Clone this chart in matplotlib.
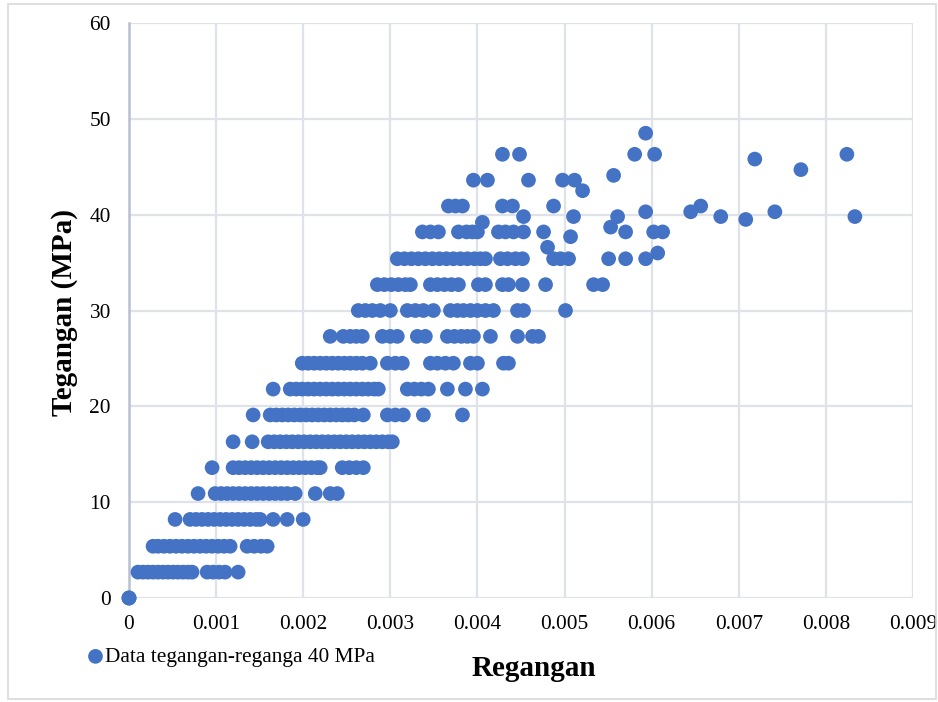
import numpy as np
import matplotlib.pyplot as plt
from matplotlib.patches import Rectangle

plt.rcParams['font.family'] = ['Liberation Serif', 'DejaVu Serif']

# stress levels (MPa) of the load steps
levels = [0.0, 2.7, 5.4, 8.2, 10.9, 13.6, 16.3, 19.1, 21.8, 24.5, 27.3, 30.0,
          32.7, 35.4, 38.2, 40.9, 43.6, 46.3]

# strain readings at each load step
e_00 = [0.0, 0.0, 0.0]
e_27 = [0.000103, 0.000161, 0.000218, 0.000276, 0.000333, 0.000391, 0.000448, 0.000506,
        0.000563, 0.000621, 0.000678, 0.000724, 0.000897, 0.000966, 0.001034, 0.001103,
        0.001253]
e_54 = [0.000276, 0.000333, 0.000402, 0.000471, 0.000540, 0.000609, 0.000678, 0.000747,
        0.000816, 0.000885, 0.000954, 0.001023, 0.001092, 0.001161, 0.001356, 0.001437,
        0.001517, 0.001586]
e_82 = [0.000529, 0.000701, 0.000770, 0.000839, 0.000908, 0.000977, 0.001046, 0.001115,
        0.001184, 0.001253, 0.001322, 0.001391, 0.001460, 0.001506, 0.001655, 0.001816,
        0.002000]
e_109 = [0.000793, 0.000989, 0.001057, 0.001126, 0.001195, 0.001264, 0.001333, 0.001402,
         0.001471, 0.001540, 0.001609, 0.001678, 0.001747, 0.001816, 0.001908, 0.002138,
         0.002310, 0.002391]
e_136 = [0.000954, 0.001195, 0.001264, 0.001333, 0.001402, 0.001471, 0.001540, 0.001609,
         0.001678, 0.001747, 0.001816, 0.001885, 0.001954, 0.002023, 0.002092, 0.002161,
         0.002195, 0.002448, 0.002529, 0.002609, 0.002690]
e_163 = [0.001195, 0.001414, 0.001598, 0.001667, 0.001736, 0.001805, 0.001874, 0.001943,
         0.002011, 0.002080, 0.002149, 0.002218, 0.002287, 0.002356, 0.002425, 0.002494,
         0.002563, 0.002632, 0.002701, 0.002770, 0.002839, 0.002908, 0.002977, 0.003023]
e_191 = [0.001425, 0.001621, 0.001690, 0.001759, 0.001828, 0.001897, 0.001966, 0.002034,
         0.002103, 0.002172, 0.002241, 0.002310, 0.002379, 0.002448, 0.002517, 0.002586,
         0.002690, 0.002966, 0.003057, 0.003149, 0.003379, 0.003828]
e_218 = [0.001655, 0.001851, 0.001920, 0.001989, 0.002057, 0.002126, 0.002195, 0.002264,
         0.002333, 0.002402, 0.002471, 0.002540, 0.002609, 0.002678, 0.002747, 0.002816,
         0.002862, 0.003195, 0.003276, 0.003356, 0.003437, 0.003655, 0.003862, 0.004057]
e_245 = [0.001989, 0.002057, 0.002126, 0.002195, 0.002264, 0.002333, 0.002402, 0.002471,
         0.002540, 0.002609, 0.002678, 0.002770, 0.002966, 0.003057, 0.003138, 0.003460,
         0.003540, 0.003632, 0.003724, 0.003920, 0.004000, 0.004299, 0.004356]
e_273 = [0.002310, 0.002460, 0.002540, 0.002609, 0.002678, 0.002908, 0.003000, 0.003080,
         0.003310, 0.003402, 0.003655, 0.003736, 0.003816, 0.003885, 0.003954, 0.004149,
         0.004460, 0.004632, 0.004701]
e_300 = [0.002632, 0.002713, 0.002793, 0.002885, 0.003000, 0.003195, 0.003287, 0.003379,
         0.003494, 0.003690, 0.003770, 0.003839, 0.003920, 0.004000, 0.004092, 0.004184,
         0.004460, 0.004529, 0.005011]
e_327 = [0.002851, 0.002931, 0.003011, 0.003092, 0.003172, 0.003230, 0.003460, 0.003540,
         0.003621, 0.003701, 0.003782, 0.004011, 0.004092, 0.004287, 0.004356, 0.004517,
         0.004782, 0.005333, 0.005437]
e_354 = [0.003080, 0.003161, 0.003241, 0.003322, 0.003402, 0.003483, 0.003563, 0.003644,
         0.003724, 0.003805, 0.003885, 0.003966, 0.004034, 0.004092, 0.004264, 0.004345,
         0.004437, 0.004517, 0.004874, 0.004954, 0.005046, 0.005506, 0.005701, 0.005931]
e_382 = [0.003368, 0.003460, 0.003552, 0.003782, 0.003874, 0.003943, 0.004000, 0.004241,
         0.004322, 0.004414, 0.004529, 0.004759, 0.005701, 0.006023, 0.006126]
e_409 = [0.003667, 0.003747, 0.003828, 0.004287, 0.004402, 0.004874, 0.006563]
e_436 = [0.003954, 0.004115, 0.004586, 0.004977, 0.005115]
e_463 = [0.004287, 0.004483, 0.005805, 0.006034, 0.008241]

# readings that fall between the load steps
odd_strain = [0.004057, 0.004529, 0.004805, 0.005069, 0.005103, 0.005207, 0.005563,
              0.005529, 0.005609, 0.005931, 0.005931, 0.006069, 0.006448, 0.007184,
              0.006793, 0.007080, 0.007414, 0.007713, 0.008333]
odd_stress = [39.2, 39.8, 36.6, 37.7, 39.8, 42.5, 44.1, 38.7, 39.8, 40.3, 48.5, 36.0,
              40.3, 45.8, 39.8, 39.5, 40.3, 44.7, 39.8]

rows = [e_00, e_27, e_54, e_82, e_109, e_136, e_163, e_191, e_218, e_245, e_273,
        e_300, e_327, e_354, e_382, e_409, e_436, e_463]

strain = []
stress = []
for lv, r in zip(levels, rows):
    strain += r
    stress += [lv] * len(r)
strain += odd_strain
stress += odd_stress

xticks = np.arange(0, 0.0091, 0.001)
xlabels = ['0', '0.001', '0.002', '0.003', '0.004', '0.005', '0.006', '0.007', '0.008', '0.009']
yticks = [0, 10, 20, 30, 40, 50, 60]

blue = '#4472C4'
grid = '#dee2e9'

fig = plt.figure(figsize=(9.38, 7.02), dpi=100)
ax = fig.add_axes([129/938, 1 - 598/702, 784/938, 575/702])

ax.scatter(strain, stress, s=112, color=blue, edgecolors='none', zorder=3,
           clip_on=False, label='Data tegangan-reganga 40 MPa')

ax.set_xlim(0, 0.009)
ax.set_ylim(0, 60)
ax.set_xticks(xticks)
ax.set_xticklabels(xlabels)
ax.set_yticks(yticks)
ax.grid(True, color=grid, lw=1.6, zorder=0)
ax.set_axisbelow(True)
for s in ['top', 'right', 'bottom']:
    ax.spines[s].set_visible(False)
ax.spines['left'].set_color('#b8c0d0')
ax.spines['left'].set_linewidth(1.8)
ax.tick_params(length=0, labelsize=15.4)
ax.tick_params(axis='x', pad=12)
ax.tick_params(axis='y', pad=13)

fig.text(534/938, 1 - 669/702, 'Regangan', fontsize=21, fontweight='bold',
         ha='center', va='center')
fig.text(65/938, 1 - 313/702, 'Tegangan (MPa)', fontsize=21, fontweight='bold',
         ha='center', va='center', rotation=90)

fig.legend(loc='center left', bbox_to_anchor=(88/938, 1 - 657/702), frameon=False,
           fontsize=15.4, handlelength=0.7, handletextpad=0.1, borderpad=0,
           borderaxespad=0)

# light frame round the chart area
fig.patches.append(Rectangle((8/938, 3/702), 928/938, 695/702, transform=fig.transFigure,
                             fill=False, edgecolor='#d9d9d9', lw=1.2))

fig.savefig('out.png', dpi=100)
